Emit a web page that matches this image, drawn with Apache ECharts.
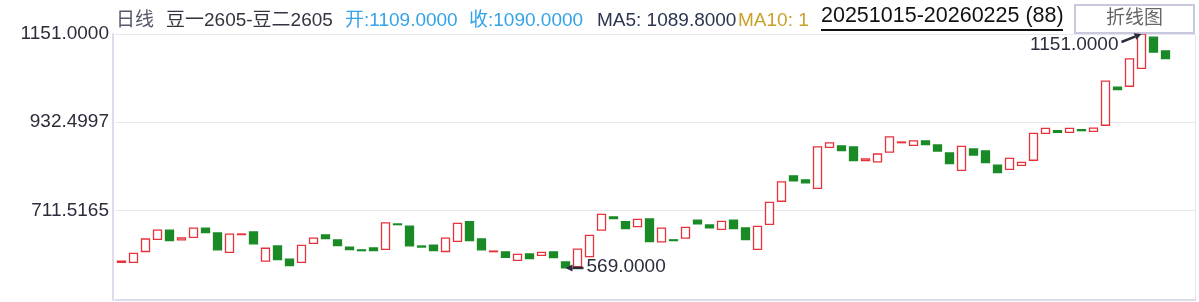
<!DOCTYPE html>
<html><head><meta charset="utf-8">
<script src="https://cdn.jsdelivr.net/npm/echarts@6/dist/echarts.min.js"></script>
<style>html,body{margin:0;padding:0;background:#fff;overflow:hidden}#c{width:1199px;height:302px}</style>
</head><body><div id="c"></div>
<script>
// ---- data ----
const opens = [
  583, 583, 610, 640, 663, 639, 645, 668, 656, 608,
  652, 658.5, 586, 623.6, 591, 583, 630, 651, 638.6, 621,
  614, 618.7, 615, 678.5, 673, 623.6, 626, 610, 635, 684,
  641, 609.5, 608.7, 588, 603.7, 600.5, 608.7, 584, 572, 597,
  663, 696, 684, 671.6, 690.8, 634, 639, 643, 688, 676,
  665, 688, 668.4, 615, 677.6, 735, 798, 788, 767, 869,
  872.4, 870, 836, 833, 857, 880.6, 874, 885, 875, 855,
  812, 865, 860, 825, 814.4, 824.4, 837, 904, 910.5, 906.5,
  913, 909, 924, 1019, 1021, 1065.7, 1143, 1109
];
const closes = [
  586, 605.5, 641, 663, 637, 643.5, 668, 657, 614, 653,
  653.5, 629, 618, 589.5, 575, 625, 643, 642, 624.4, 614.5,
  612, 612, 681, 676.7, 624, 621, 612, 643, 680, 637,
  614, 611, 595.5, 603, 592, 608, 594.5, 569, 616, 650,
  702.5, 691.5, 667, 690, 634.3, 668, 637, 670, 679, 669,
  685, 667, 639.3, 672.6, 732.3, 783, 786, 781, 870, 880,
  860.7, 836, 840, 852.5, 895, 882.3, 885, 875.6, 860, 828.4,
  871.6, 850, 831, 806, 841.8, 831.8, 904, 916.4, 906.5, 916.4,
  910.5, 917, 1034, 1013, 1089, 1151, 1106, 1090
];
const categories = opens.map((_, i) => String(i + 1));
const yTickValues = [711.5165, 932.4997, 1151.0000];
const yMin = 489.3, yMax = 1151;
const dateRange = '20251015-20260225';
const contractName = '豆一2605-豆二2605';
const periodName = '日线';
const buttonText = '折线图';

// ---- derived ----
const candles = opens.map((o, i) => [o, closes[i], Math.min(o, closes[i]), Math.max(o, closes[i])]);
const highs = candles.map(c => c[3]);
const lows = candles.map(c => c[2]);
const idxMax = highs.indexOf(Math.max(...highs));
const idxMin = lows.indexOf(Math.min(...lows));
const n = closes.length;
const ma = k => closes.slice(n - k).reduce((a, b) => a + b, 0) / k;
const fmt = v => v.toFixed(4);

const FONT = '"Liberation Sans", Arial, "Noto Sans CJK SC", sans-serif';
const RED = '#e5323b', GREEN = '#1a8a27', TXT = '#2b2d3c';

const chart = echarts.init(document.getElementById('c'));
const headTop = 9.5;
const ts = (color, size) => ({ color: color, fontSize: size || 19, fontFamily: FONT, fontWeight: 'normal', lineHeight: 22 });

chart.setOption({
  animation: false,
  backgroundColor: '#fff',
  title: [
    { text: periodName, left: 116, top: headTop, padding: 0, textStyle: ts('#55576a') },
    { text: contractName, left: 166, top: headTop, padding: 0, textStyle: ts('#33343f') },
    { text: '开:' + fmt(opens[n - 1]), left: 345, top: headTop, padding: 0, textStyle: ts('#33a3e8') },
    { text: '收:' + fmt(closes[n - 1]), left: 469, top: headTop, padding: 0, textStyle: ts('#33a3e8') },
    { text: 'MA5: ' + fmt(ma(5)), left: 597, top: headTop, padding: 0, textStyle: ts('#2c3550') },
    { text: 'MA10: ' + fmt(ma(10)).slice(0, 1), left: 738, top: headTop, padding: 0, textStyle: ts('#c9a22a') },
    { text: dateRange + ' (' + n + ')', left: 821, top: 4.5, padding: 0,
      textStyle: { color: '#111', fontSize: 21.5, fontFamily: FONT, fontWeight: 'normal', lineHeight: 24 } },
    { text: buttonText, left: 1075, top: 5, padding: [3, 31, 3, 31], borderColor: '#c9c9de', borderWidth: 2,
      backgroundColor: '#fff', textStyle: ts('#666') }
  ],
  graphic: [
    { type: 'line', shape: { x1: 821, y1: 30, x2: 1063, y2: 30 }, style: { stroke: '#111', lineWidth: 2 } }
  ],
  grid: { left: 115.5, right: 3.5, top: 34, bottom: 2, containLabel: false },
  xAxis: {
    type: 'category',
    data: categories.concat(['', '']),
    boundaryGap: true,
    axisLine: { show: true, lineStyle: { color: '#dcdcea', width: 2 } },
    axisTick: { show: false },
    axisLabel: { show: false },
    splitLine: { show: false }
  },
  yAxis: [{
    type: 'value',
    min: yMin, max: yMax,
    offset: 2.5,
    axisLine: { show: true, lineStyle: { color: '#dcdcea', width: 2 } },
    axisTick: { show: false, customValues: yTickValues },
    axisLabel: { show: true, customValues: yTickValues, margin: 4, formatter: v => fmt(v),
      color: TXT, fontSize: 19, fontFamily: FONT },
    splitLine: { show: true, lineStyle: { color: '#e6e6f0', width: 1 } }
  }, {
    type: 'value', position: 'right', min: yMin, max: yMax,
    axisLine: { show: true, lineStyle: { color: '#e6e6f0', width: 1 } },
    axisTick: { show: false }, axisLabel: { show: false }, splitLine: { show: false }
  }],
  series: [{
    type: 'candlestick',
    data: candles,
    barWidth: 9,
    itemStyle: { color: '#fff', color0: GREEN, borderColor: RED, borderColor0: GREEN, borderWidth: 1.3 }
  }, {
    type: 'custom',
    silent: true,
    clip: false,
    z: 10,
    encode: { x: 0, y: 1 },
    data: [[idxMax, highs[idxMax], 1], [idxMin, lows[idxMin], 0]],
    renderItem: function (params, api) {
      const idx = api.value(0), val = api.value(1), kind = api.value(2);
      const p = api.coord([idx, val]);
      let s, tx, ty, align;
      if (kind === 1) { s = [p[0] - 20, p[1] + 8]; tx = p[0] - 23; ty = p[1] + 11; align = 'right'; }
      else { s = [p[0] + 18, p[1]]; tx = p[0] + 21; ty = p[1] - 1; align = 'left'; }
      const dx = p[0] - s[0], dy = p[1] - s[1], L = Math.hypot(dx, dy);
      const ux = dx / L, uy = dy / L;
      const bx = p[0] - ux * 7, by = p[1] - uy * 7;
      const nx = -uy, ny = ux;
      return {
        type: 'group',
        children: [
          { type: 'line', shape: { x1: s[0], y1: s[1], x2: bx, y2: by }, style: { stroke: TXT, lineWidth: 2.5 } },
          { type: 'polygon', shape: { points: [[p[0], p[1]], [bx + nx * 3.5, by + ny * 3.5], [bx - nx * 3.5, by - ny * 3.5]] },
            style: { fill: TXT } },
          { type: 'text', style: { text: fmt(val), x: tx, y: ty, align: align, verticalAlign: 'middle',
            fontSize: 19, fontFamily: FONT, fill: TXT } }
        ]
      };
    }
  }]
});
</script>
</body></html>
